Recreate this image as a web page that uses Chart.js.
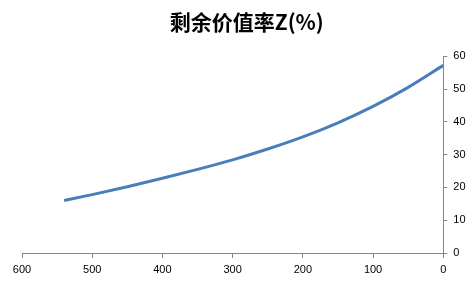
<!DOCTYPE html>
<html><head><meta charset="utf-8">
<script src="https://cdn.jsdelivr.net/npm/chart.js@4/dist/chart.umd.min.js"></script>
<style>html,body{margin:0;padding:0;background:#fff}#wrap{width:473px;height:281px}</style>
</head><body><div id="wrap"><canvas id="c"></canvas></div>
<script>
const xValues = [540, 500, 450, 400, 350, 300, 250, 200, 150, 100, 50, 0];
const zValues = [16.0, 17.8, 20.2, 22.8, 25.5, 28.4, 31.7, 35.4, 39.7, 44.7, 50.5, 57.2];
const xTicks = [600, 500, 400, 300, 200, 100, 0];
const yTicks = [0, 10, 20, 30, 40, 50, 60];
const titleText = '剩余价值率Z(%)';

const pts = xValues.map((x, i) => ({x: x, y: zValues[i]}));
const axisColor = '#868686';
new Chart(document.getElementById('c'), {
  type: 'scatter',
  data: { datasets: [{ data: pts, showLine: true, borderColor: '#4A7EBB', borderWidth: 3, pointRadius: 0, cubicInterpolationMode: 'monotone', fill: false }] },
  options: {
    responsive: true, maintainAspectRatio: false, animation: false,
    layout: { padding: { left: 22, right: 1.5, top: 5, bottom: 0 } },
    plugins: {
      legend: { display: false }, tooltip: { enabled: false },
      title: { display: true, text: titleText, color: '#000', font: { family: '"Noto Sans CJK SC"', size: 21, weight: 'bold' }, padding: { top: 4, bottom: 22 } }
    },
    scales: {
      x: {
        type: 'linear', reverse: true, min: 0, max: 600,
        afterBuildTicks: (s) => { s.ticks = xTicks.map(v => ({value: v})); },
        grid: { display: true, drawOnChartArea: false, drawTicks: true, tickLength: 5, color: axisColor },
        border: { display: true, color: axisColor, width: 1 },
        ticks: { color: '#000', font: { family: 'Liberation Sans', size: 11, lineHeight: 1.0 }, padding: 6, maxRotation: 0 }
      },
      y: {
        position: 'right', min: 0, max: 60,
        afterBuildTicks: (s) => { s.ticks = yTicks.map(v => ({value: v})); },
        grid: { display: true, drawOnChartArea: false, drawTicks: true, tickLength: 4, color: axisColor },
        border: { display: true, color: axisColor, width: 1 },
        ticks: { color: '#000', font: { family: 'Liberation Sans', size: 11 }, padding: 6 }
      }
    }
  }
});
</script></body></html>
